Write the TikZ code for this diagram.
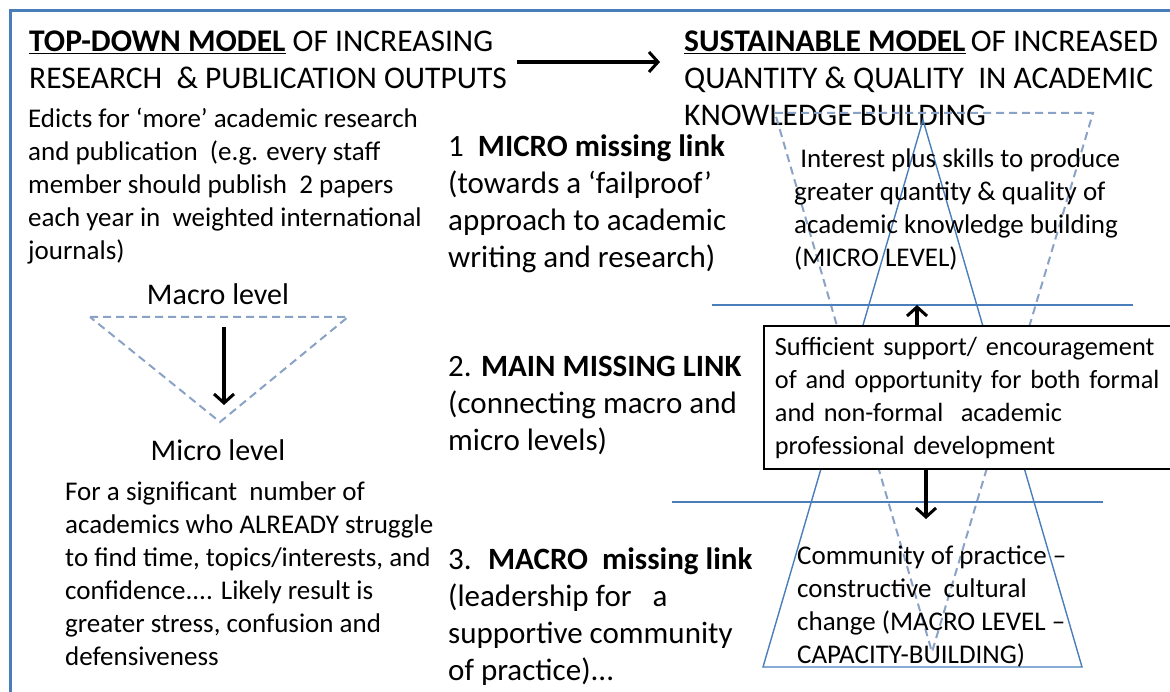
\documentclass[tikz,border=0pt]{standalone}
\usepackage{fontspec}
\setmainfont{Carlito}
\usepackage{tikz}
\usetikzlibrary{arrows.meta,positioning,calc}
\definecolor{frameblue}{HTML}{4A7EBB}
\definecolor{dashblue}{HTML}{8AA2C6}
\tikzset{
  headtext/.style={font=\fontsize{31.5}{37}\selectfont, align=left, inner sep=0pt, anchor=north west},
  linktext/.style={font=\fontsize{31}{37}\selectfont, align=left, inner sep=0pt, anchor=north west},
  bodytext/.style={font=\fontsize{27}{33}\selectfont, align=left, inner sep=0pt, anchor=north west},
  leveltext/.style={font=\fontsize{30}{36}\selectfont, inner sep=0pt},
  supportbox/.style={draw=black, line width=1.8pt, fill=white, font=\fontsize{26.3}{33}\selectfont,
    align=left, anchor=north west, text width=415pt, inner xsep=11pt, inner ysep=11pt},
  mainarrow/.style={-{Straight Barb[length=9pt, width=20pt, line width=3pt]}, line width=3.4pt, draw=black},
  frameline/.style={draw=frameblue, line width=3pt},
  solidline/.style={draw=frameblue, line width=1.4pt},
  dashline/.style={draw=dashblue, line width=2pt, dash pattern=on 8pt off 5pt}
}

\begin{document}
\begin{tikzpicture}[x=1pt, y=-1pt]
    \useasboundingbox (0,0) rectangle (1170,692);
    \draw[frameline] (10,700) -- (10,11) -- (1180,11);

    % headings
    \node[headtext] (topdown) at (29,31)
        {\underline{\textbf{TOP-DOWN MODEL}} OF INCREASING\\RESEARCH \ \& PUBLICATION OUTPUTS};
    \node[headtext] (sustain) at (684,31)
        {\underline{\textbf{SUSTAINABLE MODEL}}\,OF INCREASED\\QUANTITY \& QUALITY \ IN ACADEMIC\\KNOWLEDGE BUILDING};
    \coordinate (modelfrom) at (517,62);
    \coordinate (modelto) at (660,62);
    \draw[mainarrow] (modelfrom) -- (modelto);

    % left column
    \node[bodytext] (edicts) at (28,108)
        {Edicts for ‘more’ academic research\\and publication \ (e.g. every staff\\member should publish \ 2 papers\\each year in \ weighted international\\journals)};
    \node[leveltext] (macro) at (218,294) {Macro level};
    \coordinate (mtl) at (90,317);
    \coordinate (mtr) at (348,317);
    \coordinate (mtb) at (220,422);
    \draw[dashline] (mtl) -- (mtr) -- (mtb) -- cycle;
    \coordinate (mdfrom) at (224,327);
    \coordinate (mdto) at (224,405);
    \draw[mainarrow] (mdfrom) -- (mdto);
    \node[leveltext] (micro) at (218,450) {Micro level};
    \node[bodytext] (struggle) at (65,482)
        {For a significant \ number of\\academics who ALREADY struggle\\to find time, topics/interests, and\\confidence.... Likely result is\\greater stress, confusion and\\defensiveness};

    % middle column
    \node[linktext] (microlink) at (448,135)
        {1 \ \textbf{MICRO missing link}\\(towards a ‘failproof’\\approach to academic\\writing and research)};
    \node[linktext] (mainlink) at (448,356)
        {2. \textbf{MAIN MISSING LINK}\\(connecting macro and\\micro levels)};
    \node[linktext] (macrolink) at (448,548)
        {3. \ \textbf{MACRO \ missing link}\\(leadership for \ \ a\\supportive community\\of practice)...};

    % right column: triangles and levels
    \coordinate (ta) at (923,120);
    \coordinate (tl) at (763,667);
    \coordinate (tr) at (1082,667);
    \draw[solidline] (ta) -- (tl) -- (tr) -- cycle;
    \coordinate (dl) at (775,113);
    \coordinate (dr) at (1093,113);
    \coordinate (db) at (932,652);
    \draw[dashline] (dl) -- (dr) -- (db) -- cycle;
    \coordinate (uppl) at (712,305);
    \coordinate (uppr) at (1133,305);
    \draw[solidline] (uppl) -- (uppr);
    \coordinate (lowl) at (672,502);
    \coordinate (lowr) at (1103,502);
    \draw[solidline] (lowl) -- (lowr);

    \node[bodytext] (interest) at (794,149)
        {\ Interest plus skills to produce\\greater quantity \& quality of\\academic knowledge building\\(MICRO LEVEL)};
    \node[supportbox] (support) at (763,325)
        {Sufficient support/ encouragement\\of and opportunity for both formal\\and non-formal \ academic\\professional development};
    \coordinate (uptip) at (917,305);
    \draw[mainarrow] (uptip |- support.north) -- (uptip);
    \coordinate (downtip) at (926,519);
    \draw[mainarrow] (downtip |- support.south) -- (downtip);
    \node[bodytext] (community) at (797,546)
        {Community of practice –\\constructive \ cultural\\change (MACRO LEVEL –\\CAPACITY-BUILDING)};
\end{tikzpicture}
\end{document}
